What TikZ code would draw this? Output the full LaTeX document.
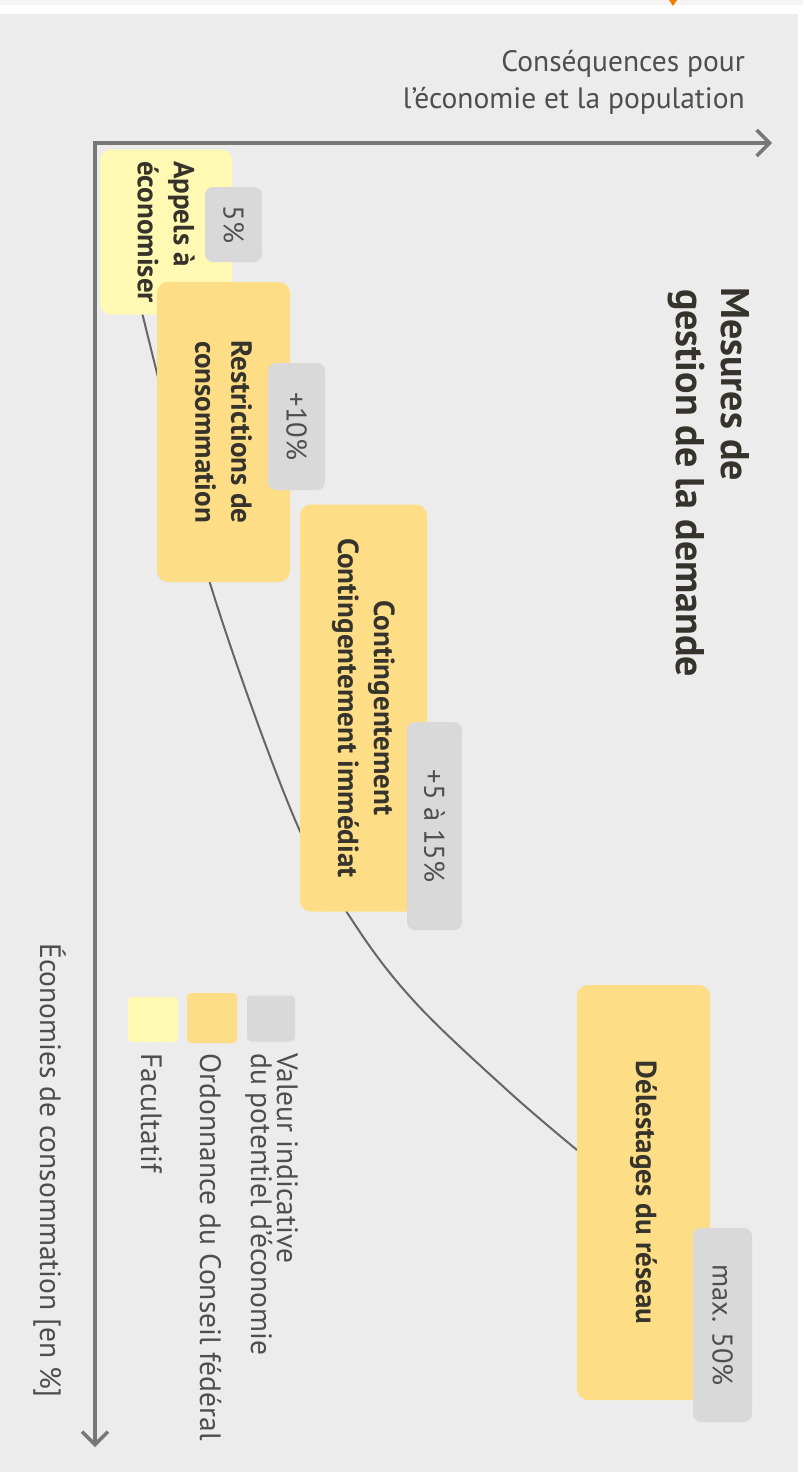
\documentclass[tikz,border=0pt]{standalone}
\usepackage{fontspec}
\setmainfont{PT Sans}
\usetikzlibrary{arrows.meta}
\definecolor{bg}{HTML}{ECECEC}
\definecolor{topstrip}{HTML}{F4F4F4}
\definecolor{paleyellow}{HTML}{FFF9B3}
\definecolor{gold}{HTML}{FDDD85}
\definecolor{valgray}{HTML}{D9D9D9}
\definecolor{axisgray}{HTML}{777777}
\definecolor{curvegray}{HTML}{666666}
\definecolor{txtdark}{HTML}{35332B}
\definecolor{txtgray}{HTML}{4E4E4E}
\definecolor{orangemark}{HTML}{F07D00}
\begin{document}
\begin{tikzpicture}[x=1pt,y=-1pt,
  measure/.style={rounded corners=11pt, inner sep=0pt, rotate=-90, align=center,
    font=\bfseries\fontsize{29}{36}\selectfont, text=txtdark},
  optbox/.style={measure, fill=paleyellow},
  ordbox/.style={measure, fill=gold},
  valbox/.style={rounded corners=8pt, inner sep=0pt, rotate=-90, fill=valgray,
    font=\fontsize{28.5}{32}\selectfont, text=txtgray},
  legsq/.style={rounded corners=4pt, inner sep=0pt, minimum width=48pt, minimum height=46pt},
  plain/.style={inner sep=0pt, font=\fontsize{29.5}{34}\selectfont, text=txtgray},
  vplain/.style={plain, rotate=-90, anchor=base west},
  vtitle/.style={inner sep=0pt, rotate=-90, anchor=base west, font=\bfseries\fontsize{40}{46}\selectfont, text=txtdark},
  axis/.style={draw=axisgray, line width=3.5pt, {Straight Barb[length=13pt,width=26pt]}-{Straight Barb[length=13pt,width=26pt]}},
  curve/.style={draw=curvegray, line width=2pt}
]
\useasboundingbox (0,0) rectangle (803,1472);
% page background
\fill[white] (0,0) rectangle (803,1472);
\fill[topstrip] (0,0) rectangle (803,5);
\fill[bg] (0,14) rectangle (798,1472);
\fill[orangemark] (669,0) -- (677,0) -- (673,6) -- cycle;

% axes
\coordinate (origin) at (95,143);
\coordinate (xend) at (772,143);
\coordinate (yend) at (95,1447);
\draw[axis] (xend) -- (origin) -- (yend);

% axis labels
\node[plain, anchor=base east] (cons1) at (745,71) {Conséquences pour};
\node[plain, anchor=base east] (cons2) at (745,108) {l'économie et la population};
\node[vplain] (ylab) at (40,943) {Économies de consommation [en \%]};

% title
\node[vtitle] (title1) at (721,287) {Mesures de};
\node[vtitle] (title2) at (676,289) {gestion de la demande};

% trend curve (behind the boxes)
\draw[curve] plot[smooth, tension=0.6] coordinates {(139,300) (157,373) (209,580) (293,815) (350,917) (413,1000) (507,1090) (577,1150)};

% measure boxes
\node[optbox, minimum width=165pt, minimum height=132pt, align=left] (appels) at (166,232) {Appels à\\économiser};
\node[valbox, minimum width=75pt, minimum height=57pt] (v5) at (233.5,224.5) {5\%};
\node[ordbox, minimum width=300pt, minimum height=133pt] (restr) at (223.5,432) {Restrictions de\\consommation};
\node[valbox, minimum width=127pt, minimum height=57pt] (v10) at (296.5,426.5) {+10\%};
\node[ordbox, minimum width=407pt, minimum height=127pt] (conting) at (363.5,708) {Contingentement\\Contingentement immédiat};
\node[valbox, minimum width=208pt, minimum height=55pt] (v515) at (434.5,826) {+5 à 15\%};
\node[ordbox, minimum width=415pt, minimum height=133pt] (delest) at (643.5,1192.5) {Délestages du réseau};
\node[valbox, minimum width=194pt, minimum height=59pt] (v50) at (722.5,1325) {max. 50\%};

% legend
\node[legsq, fill=valgray] (lgval) at (271,1018.5) {};
\node[legsq, fill=gold, minimum width=50pt, minimum height=50pt] (lgord) at (212,1018) {};
\node[legsq, fill=paleyellow, minimum width=50pt, minimum height=45pt] (lgopt) at (153,1019.5) {};
\node[vplain] (lt1a) at (277,1053) {Valeur indicative};
\node[vplain] (lt1b) at (251,1053) {du potentiel d'économie};
\node[vplain] (lt2) at (200,1053) {Ordonnance du Conseil fédéral};
\node[vplain] (lt3) at (141,1053) {Facultatif};
\end{tikzpicture}
\end{document}
